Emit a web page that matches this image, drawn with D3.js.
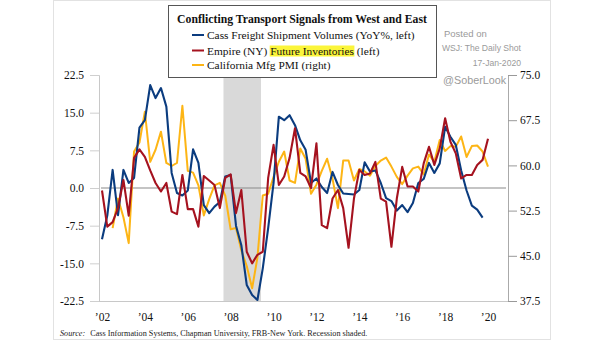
<!DOCTYPE html>
<html>
<head>
<meta charset="utf-8">
<script src="https://cdn.jsdelivr.net/npm/d3@7"></script>
<style>
  body { margin: 0; background: #fff; }
  svg { display: block; }
</style>
</head>
<body>
<div class="canvas"></div>
<script>
// data (quarterly, starting Q1 2002)
const quarters = d3.range(73).map(i => new Date(2002, i * 3, 1))
const yearTicks = [2002, 2004, 2006, 2008, 2010, 2012, 2014, 2016, 2018, 2020]
const leftTicks = [-22.5, -15, -7.5, 0, 7.5, 15, 22.5]
const rightTicks = [37.5, 45, 52.5, 60, 67.5, 75]
const recession = [new Date(2007, 8, 1), new Date(2009, 5, 1)]

// Cass Freight Shipment Volumes (YoY%, left)
const cass = [-10.2, -5.5, 3.6, -5.4, 3.6, 1.0, 2.0, 12.0, 13.5, 20.5, 17.9, 19.9, 16.2, 3.0, -1.0, -1.5,
  -0.5, 7.7, 5.0, -3.4, -5.0, -3.7, -2.8, 2.3, 2.6, -7.5, -11.4, -19.3, -21.3, -22.3, -16.0, -8.0,
  1.0, 14.2, 13.5, 14.5, 12.5, 9.5, 7.6, 1.0, 1.9, 0.2, -1.0, 3.2, 0.6, -1.1, -1.2, -1.3,
  -0.4, 5.1, 3.3, 3.5, 1.0, -2.0, -2.6, -4.5, -3.4, -4.8, -3.0, 1.0, 1.8, 5.0, 3.0, 4.9,
  12.2, 10.2, 8.6, 3.5, -0.5, -3.5, -4.3, -5.9]

// Empire (NY) Future Inventories (left)
const empire = [-0.5, -7.7, -6.8, -4.0, 1.6, -5.5, 6.0, 7.7, 6.2, 3.5, 1.0, -0.7, 1.0, -4.7, -5.2, 2.6,
  -4.2, -4.2, -7.7, 2.4, 1.5, 0.6, -4.0, 2.0, 2.7, -5.0, -0.4, -12.7, -15.0, -13.3, -12.7, 2.0,
  8.6, 0.6, 2.3, 6.0, 11.9, 3.0, 2.3, 0.0, 8.9, -7.4, -8.0, -2.1, -0.4, -4.0, -11.9, -2.1,
  3.6, 2.6, 2.9, 5.2, -2.1, -2.7, -11.7, -2.1, 4.2, 0.3, 0.3, -0.7, 4.9, 8.2, 4.6, 7.9,
  13.9, 9.2, 6.9, 1.9, 2.6, 2.6, 4.6, 5.6, 9.8]

// California Mfg PMI (right)
const pmi = [null, null, 49.6, 54.5, 51.4, 47.1, 62.3, 63.8, 68.9, 60.6, 62.6, 65.6, 60.4, 59.9, 60.4, 69.9,
  59.1, 58.8, 56.7, 51.7, 54.4, 56.7, 57.1, 55.0, 49.4, 49.6, 45.9, 43.3, 39.6, 44.7, 55.0, 55.3,
  58.1, 60.6, 62.3, 57.5, 57.1, 62.8, 61.1, 55.3, 56.8, 59.1, 61.1, 57.8, 52.9, 60.8, 60.8, 57.5,
  59.4, 59.0, 58.3, 59.9, 60.8, 61.3, 59.8, 58.1, 56.9, 58.3, 59.5, 59.8, 58.5, 61.8, 60.6, 64.2,
  62.4, 63.2, 63.1, 64.8, 61.4, 63.2, 63.3, 62.3, 59.8]

const colors = { cass: '#0b3c7f', empire: '#a5121f', pmi: '#fdb515' }
const serif = "'Liberation Serif', 'DejaVu Serif', serif"
const sans = "'Liberation Sans', Arial, sans-serif"

const svg = d3.select('.canvas')
    .append('svg')
    .attr('width', 605)
    .attr('height', 341)

// plot box
const plot = { left: 99, right: 508, top: 75, bottom: 301 }

const x = d3.scaleTime()
    .domain([new Date(2002, 0, 1), new Date(2020, 0, 1)])
    .range([102, 488])
const yL = d3.scaleLinear().domain([-22.5, 22.5]).range([plot.bottom, plot.top])
const yR = d3.scaleLinear().domain([37.5, 75]).range([plot.bottom, plot.top])

// outer frame
svg.append('rect')
    .attr('x', 53.5).attr('y', 0.5)
    .attr('width', 497).attr('height', 339)
    .attr('fill', 'none')
    .attr('stroke', '#e2e2e2')

// recession shading
svg.append('rect')
    .attr('x', x(recession[0]))
    .attr('y', plot.top)
    .attr('width', x(recession[1]) - x(recession[0]))
    .attr('height', plot.bottom - plot.top)
    .attr('fill', '#d9d9d9')

// zero line
svg.append('line')
    .attr('x1', plot.left + 2).attr('x2', plot.right - 2)
    .attr('y1', yL(0)).attr('y2', yL(0))
    .attr('stroke', '#8a8a8a')
    .attr('stroke-width', 1.2)

// axes
const leftAxis = svg.append('g')
    .attr('transform', `translate(${plot.left},0)`)
    .call(d3.axisLeft(yL).tickValues(leftTicks).tickSize(9).tickPadding(6)
        .tickFormat(d => d.toFixed(1)))
const rightAxis = svg.append('g')
    .attr('transform', `translate(${plot.right},0)`)
    .call(d3.axisRight(yR).tickValues(rightTicks).tickSize(9).tickPadding(3)
        .tickFormat(d => d.toFixed(1)))
const bottomAxis = svg.append('g')
    .attr('transform', `translate(0,${plot.bottom})`)
    .call(d3.axisBottom(x).tickValues(yearTicks.map(y => new Date(y, 0, 1))).tickSize(0).tickPadding(12)
        .tickFormat(d => '\u2019' + String(d.getFullYear()).slice(2)))

bottomAxis.select('.domain').remove()
svg.append('line')
    .attr('x1', plot.left).attr('x2', plot.right)
    .attr('y1', plot.bottom + 0.5).attr('y2', plot.bottom + 0.5)
    .attr('stroke', '#c8c8c8')

svg.selectAll('.domain').attr('stroke', '#c8c8c8')
leftAxis.selectAll('.tick line').attr('stroke', '#cfcfcf')
rightAxis.selectAll('.tick line').attr('stroke', '#999')
rightAxis.select('.domain').attr('stroke', '#aaa')
svg.selectAll('.tick text')
    .attr('font-family', serif)
    .attr('font-size', 11.5)
    .attr('fill', '#111')

// lines
const lineL = d3.line()
    .defined(d => d[1] != null)
    .x(d => x(d[0]))
    .y(d => yL(d[1]))
const lineR = d3.line()
    .defined(d => d[1] != null)
    .x(d => x(d[0]))
    .y(d => yR(d[1]))

const pair = arr => arr.map((v, i) => [quarters[i], v])

svg.append('path')
    .datum(pair(pmi))
    .attr('d', lineR)
    .attr('fill', 'none')
    .attr('stroke', colors.pmi)
    .attr('stroke-width', 2)
    .attr('stroke-linejoin', 'round')

svg.append('path')
    .datum(pair(cass))
    .attr('d', lineL)
    .attr('fill', 'none')
    .attr('stroke', colors.cass)
    .attr('stroke-width', 2.1)
    .attr('stroke-linejoin', 'round')

svg.append('path')
    .datum(pair(empire))
    .attr('d', lineL)
    .attr('fill', 'none')
    .attr('stroke', colors.empire)
    .attr('stroke-width', 2.1)
    .attr('stroke-linejoin', 'round')

// legend box
const legend = svg.append('g')
legend.append('rect')
    .attr('x', 168.5).attr('y', 5.5)
    .attr('width', 268).attr('height', 72)
    .attr('fill', '#fff')
    .attr('stroke', '#555')

const title = legend.append('text')
    .attr('x', 302).attr('y', 23)
    .attr('text-anchor', 'middle')
    .attr('font-family', serif)
    .attr('font-weight', 'bold')
    .attr('font-size', 13)
    .attr('fill', '#111')
    .text('Conflicting Transport Signals from West and East')
// fit title to ~250px
const tw = title.node().getComputedTextLength()
title.attr('font-size', 13 * 250 / tw)

const items = [
    { key: 'cass', y: 35, label: 'Cass Freight Shipment Volumes (YoY%, left)' },
    { key: 'empire', y: 50.5, label: 'Empire (NY) Future Inventories (left)', mark: 'Future Inventories' },
    { key: 'pmi', y: 65, label: 'California Mfg PMI (right)' }
]

// measure legend font size from first entry (target ~208px)
const probe = legend.append('text')
    .attr('font-family', serif).attr('font-size', 12)
    .text(items[0].label)
const legendSize = 12 * 208 / probe.node().getComputedTextLength()
probe.remove()

items.forEach(item => {
    legend.append('line')
        .attr('x1', 192).attr('x2', 204)
        .attr('y1', item.y).attr('y2', item.y)
        .attr('stroke', colors[item.key])
        .attr('stroke-width', 2)
    const hl = legend.append('rect').attr('fill', '#fbf53a')
    const t = legend.append('text')
        .attr('x', 207).attr('y', item.y + 4)
        .attr('font-family', serif)
        .attr('font-size', legendSize)
        .attr('fill', '#111')
        .text(item.label)
    if (item.mark) {
        const start = item.label.indexOf(item.mark)
        const node = t.node()
        const off = node.getSubStringLength(0, start)
        const w = node.getSubStringLength(start, item.mark.length)
        hl.attr('x', 207 + off - 0.5).attr('y', item.y - 5)
            .attr('width', w + 1).attr('height', 11)
    } else {
        hl.remove()
    }
})

// watermark texts
const marks = [
    { text: 'Posted on', x: 444, y: 36.5, size: 9.5, anchor: 'start' },
    { text: 'WSJ: The Daily Shot', x: 521, y: 50.5, size: 8.6, anchor: 'end' },
    { text: '17-Jan-2020', x: 521, y: 65.5, size: 8.6, anchor: 'end' },
    { text: '@SoberLook', x: 443, y: 84, size: 10.8, anchor: 'start' }
]
svg.selectAll('.mark')
    .data(marks)
    .enter()
    .append('text')
    .attr('x', d => d.x).attr('y', d => d.y)
    .attr('text-anchor', d => d.anchor)
    .attr('font-family', sans)
    .attr('font-size', d => d.size)
    .attr('fill', '#9a9a9a')
    .text(d => d.text)

// source
const src = svg.append('text')
    .attr('x', 60).attr('y', 336)
    .attr('font-family', serif)
    .attr('font-size', 8.2)
    .attr('fill', '#222')
src.append('tspan').attr('font-style', 'italic').text('Source:')
src.append('tspan').attr('dx', 5).text('Cass Information Systems, Chapman University, FRB-New York. Recession shaded.')
</script>
</body>
</html>
